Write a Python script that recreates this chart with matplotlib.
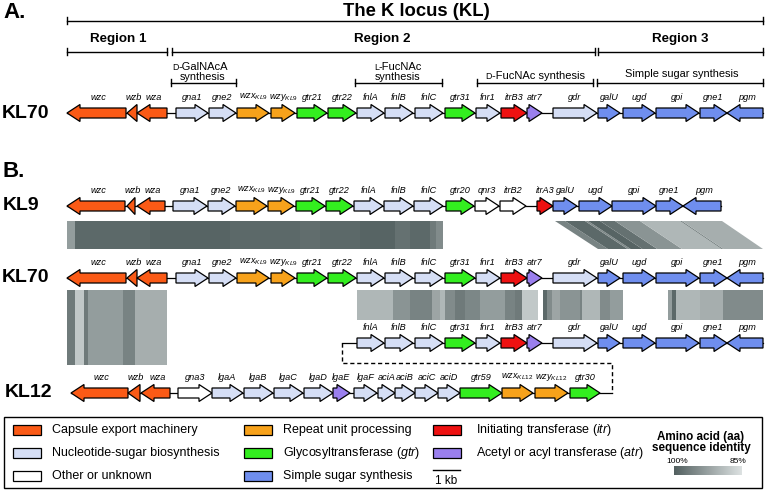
import matplotlib.pyplot as plt
import numpy as np
from matplotlib.patches import Polygon, Rectangle
from matplotlib.colors import LinearSegmentedColormap
from matplotlib.offsetbox import TextArea, HPacker, AnnotationBbox

plt.rcParams['font.family'] = ['Liberation Sans', 'DejaVu Sans']
plt.rcParams['mathtext.fontset'] = 'custom'
plt.rcParams['mathtext.rm'] = 'Liberation Sans'
plt.rcParams['mathtext.it'] = 'Liberation Sans:italic'
plt.rcParams['mathtext.bf'] = 'Liberation Sans:bold'

#%% data: genes as (name, start, end, strand, category), x in figure px (~27 px per kb)
kl70_genes = [
    ('wzc', 67, 126, -1, 'exp'), ('wzb', 127, 137, -1, 'exp'), ('wza', 137, 167, -1, 'exp'),
    ('gna1', 176, 208, 1, 'nuc'), ('gne2', 209, 236, 1, 'nuc'),
    ('wzx_KL9', 237, 269, 1, 'rep'), ('wzy_KL9', 271, 295, 1, 'rep'),
    ('gtr21', 297, 327, 1, 'gtr'), ('gtr22', 328, 356, 1, 'gtr'),
    ('fnlA', 357, 384, 1, 'nuc'), ('fnlB', 385, 413, 1, 'nuc'), ('fnlC', 415, 443, 1, 'nuc'),
    ('gtr31', 445, 475, 1, 'gtr'), ('fnr1', 476, 500, 1, 'nuc'),
    ('itrB3', 501, 527, 1, 'itr'), ('atr7', 527, 542, 1, 'atr'),
    ('gdr', 553, 597, 1, 'nuc'), ('galU', 598, 620, 1, 'sim'), ('ugd', 623, 655, 1, 'sim'),
    ('gpi', 656, 699, 1, 'sim'), ('gne1', 700, 727, 1, 'sim'), ('pgm', 727, 763, -1, 'sim'),
]
kl9_genes = [
    ('wzc', 67, 125, -1, 'exp'), ('wzb', 127, 135, -1, 'exp'), ('wza', 137, 165, -1, 'exp'),
    ('gna1', 173, 207, 1, 'nuc'), ('gne2', 208, 235, 1, 'nuc'),
    ('wzx_KL9', 236, 267, 1, 'rep'), ('wzy_KL9', 268, 294, 1, 'rep'),
    ('gtr21', 296, 325, 1, 'gtr'), ('gtr22', 326, 353, 1, 'gtr'),
    ('fnlA', 354, 383, 1, 'nuc'), ('fnlB', 384, 413, 1, 'nuc'), ('fnlC', 414, 443, 1, 'nuc'),
    ('gtr20', 446, 474, 1, 'gtr'), ('qnr3', 475, 499, 1, 'oth'), ('itrB2', 500, 526, 1, 'oth'),
    ('itrA3', 537, 553, 1, 'itr'), ('galU', 553, 577, 1, 'sim'), ('ugd', 579, 612, 1, 'sim'),
    ('gpi', 612, 656, 1, 'sim'), ('gne1', 656, 683, 1, 'sim'), ('pgm', 683, 721, -1, 'sim'),
]
kl12_genes = [
    ('wzc', 71, 128, -1, 'exp'), ('wzb', 128, 140, -1, 'exp'), ('wza', 141, 170, -1, 'exp'),
    ('gna3', 178, 212, 1, 'oth'), ('lgaA', 212, 243, 1, 'nuc'), ('lgaB', 244, 273, 1, 'nuc'),
    ('lgaC', 274, 303, 1, 'nuc'), ('lgaD', 304, 333, 1, 'nuc'), ('lgaE', 333, 350, 1, 'atr'),
    ('lgaF', 354, 377, 1, 'nuc'), ('aciA', 378, 395, 1, 'nuc'), ('aciB', 395, 415, 1, 'nuc'),
    ('aciC', 415, 438, 1, 'nuc'), ('aciD', 438, 460, 1, 'nuc'), ('gtr59', 460, 502, 1, 'gtr'),
    ('wzx_KL12', 502, 533, 1, 'rep'), ('wzy_KL12', 535, 568, 1, 'rep'), ('gtr30', 570, 600, 1, 'gtr'),
]
kl12_moved = [g for g in kl70_genes if g[1] >= 357]

# identity bands: (top x-range, bottom x-range, y-range, [(x0, x1, % identity)] along top)
bands = [
    ((67, 443), (67, 443), (221, 249),
     [(67, 75, 93), (75, 150, 99), (150, 230, 99.5), (230, 300, 99), (300, 320, 98.5),
      (320, 360, 99), (360, 395, 99.5), (395, 410, 98), (410, 430, 99), (430, 436, 97), (436, 443, 95)]),
    ((555, 722), (598, 763), (221, 249),
     [(555, 565, 96), (565, 585, 99), (585, 588, 95), (588, 600, 99.5), (600, 615, 98),
      (615, 640, 94), (640, 680, 90), (680, 682, 96), (682, 722, 91)]),
    ((67, 167), (67, 167), (290, 365),
     [(67, 75, 97), (75, 84, 88), (84, 88, 97), (88, 123, 93), (123, 135, 96), (135, 167, 91)]),
    ((357, 538), (357, 538), (290, 320),
     [(357, 393, 90), (393, 410, 94), (410, 432, 96), (432, 440, 92), (440, 445, 90),
      (445, 455, 95), (455, 465, 97), (465, 480, 95.5), (480, 505, 93), (505, 515, 96),
      (515, 522, 97), (522, 538, 88)]),
    ((543, 623), (543, 623), (290, 320),
     [(543, 547, 99), (547, 552, 95), (552, 560, 92), (560, 580, 94), (580, 582, 96),
      (582, 600, 90), (600, 610, 95), (610, 623, 93)]),
    ((668, 763), (668, 763), (290, 320),
     [(668, 672, 93), (672, 676, 99), (676, 700, 90), (700, 723, 91), (723, 763, 95)]),
]

cat_colors = {'exp': '#FA5A16', 'nuc': '#D5DEF5', 'oth': 'white', 'rep': '#F7A21B',
              'gtr': '#33EE1F', 'sim': '#6F8EEE', 'itr': '#EE1111', 'atr': '#9A7FEE'}
legend_items = [
    ('exp', 'Capsule export machinery'), ('nuc', 'Nucleotide-sugar biosynthesis'),
    ('oth', 'Other or unknown'), ('rep', 'Repeat unit processing'),
    ('gtr', r'Glycosyltransferase ($\mathit{gtr}$)'), ('sim', 'Simple sugar synthesis'),
    ('itr', r'Initiating transferase ($\mathit{itr}$)'), ('atr', r'Acetyl or acyl transferase ($\mathit{atr}$)'),
]

region_spans = [('Region 1', 67, 167, 118), ('Region 2', 172, 595, 382), ('Region 3', 598, 763, 680)]

id_cmap = LinearSegmentedColormap.from_list('ident', ['#DDE2E2', '#536060'])


def ident_color(p):
    return id_cmap((p - 85) / 15)


def gene_label(name):
    if '_' in name:
        base, sub = name.split('_')
        return base + r'$_{\mathit{' + sub + '}}$'
    return name


def gene_arrow(ax, start, end, strand, y, color, body=5, head=8.5, head_len=13):
    hl = min(head_len, end - start)
    if strand > 0:
        tip, base, tail = end, end - hl, start
    else:
        tip, base, tail = start, start + hl, end
    pts = [(tail, y - body), (base, y - body), (base, y - head), (tip, y),
           (base, y + head), (base, y + body), (tail, y + body)]
    ax.add_patch(Polygon(pts, closed=True, fc=color, ec='black', lw=0.9,
                         joinstyle='miter', zorder=3))


def draw_row(ax, genes, y, line_from=None, line_to=None):
    x0 = genes[0][1] if line_from is None else line_from
    x1 = genes[-1][2] if line_to is None else line_to
    ax.plot([x0, x1], [y, y], color='black', lw=0.9, zorder=2)
    for name, s, e, strand, cat in genes:
        gene_arrow(ax, s, e, strand, y, cat_colors[cat])
        ax.text((s + e) / 2 + (2 if strand < 0 else 0), y - 16, gene_label(name),
                ha='center', va='center', style='italic', fontsize=6.6)


def bracket(ax, x0, x1, y, tick=3.5):
    ax.plot([x0, x1], [y, y], color='black', lw=1)
    ax.plot([x0, x0], [y - tick, y + tick], color='black', lw=1)
    ax.plot([x1, x1], [y - tick, y + tick], color='black', lw=1)


def smallcap_text(ax, x, y, cap, rest, size=8):
    box = HPacker(children=[TextArea(cap, textprops=dict(size=size * 0.8)),
                            TextArea(rest, textprops=dict(size=size))],
                  align='baseline', pad=0, sep=0)
    ax.add_artist(AnnotationBbox(box, (x, y), frameon=False, box_alignment=(0.5, 0.5), pad=0))


#%% figure in pixel coordinates
fig = plt.figure(figsize=(7.66, 4.9), dpi=100)
ax = fig.add_axes([0, 0, 1, 1])
ax.axis('off')

# panel A headers
ax.text(3, 13, 'A.', fontsize=16, fontweight='bold', va='center', ha='left')
ax.text(416, 11, 'The K locus (KL)', fontsize=13.3, fontweight='bold', ha='center', va='center')
bracket(ax, 67, 763, 21)
for label, x0, x1, xc in region_spans:
    ax.text(xc, 39, label, fontsize=9.6, fontweight='bold', ha='center', va='center')
    bracket(ax, x0, x1, 52)

smallcap_text(ax, 200, 67, 'D', '-GalNAcA')
ax.text(203, 77, 'synthesis', fontsize=7.8, ha='center', va='center')
bracket(ax, 171, 236, 83)
smallcap_text(ax, 398, 67, 'L', '-FucNAc')
ax.text(398, 77, 'synthesis', fontsize=7.8, ha='center', va='center')
bracket(ax, 355, 442, 83)
smallcap_text(ax, 535, 76, 'D', '-FucNAc synthesis')
bracket(ax, 477, 593, 83)
ax.text(682, 74, 'Simple sugar synthesis', fontsize=7.9, ha='center', va='center')
bracket(ax, 597, 763, 83)

ax.text(2, 113, 'KL70', fontsize=14, fontweight='bold', va='center', ha='left')
draw_row(ax, kl70_genes, 113)

# panel B
ax.text(3, 171, 'B.', fontsize=16, fontweight='bold', va='center', ha='left')
ax.text(3, 205, 'KL9', fontsize=14, fontweight='bold', va='center', ha='left')
draw_row(ax, kl9_genes, 206)
ax.text(2, 277, 'KL70', fontsize=14, fontweight='bold', va='center', ha='left')
draw_row(ax, kl70_genes, 278)
ax.text(5, 392, 'KL12', fontsize=14, fontweight='bold', va='center', ha='left')
draw_row(ax, kl12_moved, 343, line_from=342)
draw_row(ax, kl12_genes, 393, line_to=612)
ax.plot([342, 342, 612, 612], [343, 363, 363, 393], color='black', lw=1,
        ls=(0, (3, 2)), zorder=2)

for (t0, t1), (b0, b1), (ya, yb), segs in bands:
    for x0, x1, p in segs:
        bx0 = b0 + (x0 - t0) * (b1 - b0) / (t1 - t0)
        bx1 = b0 + (x1 - t0) * (b1 - b0) / (t1 - t0)
        ax.add_patch(Polygon([(x0, ya), (x1, ya), (bx1, yb), (bx0, yb)], closed=True,
                             fc=ident_color(p), ec='none', zorder=0))

#%% legend
ax.add_patch(Rectangle((4, 417), 758, 71, fc='white', ec='black', lw=1, zorder=1))
col_x = [(13, 52), (244, 283), (433, 476)]
row_y = [430, 453, 476]
for i, (cat, text) in enumerate(legend_items):
    sx, tx = col_x[i // 3]
    y = row_y[i % 3]
    ax.add_patch(Rectangle((sx, y - 5), 28, 10, fc=cat_colors[cat], ec='black', lw=0.9, zorder=2))
    ax.text(tx, y, text, fontsize=9, va='center', ha='left')
ax.plot([433, 460], [470, 470], color='black', lw=1)
ax.text(446, 481, '1 kb', fontsize=8.5, ha='center', va='center')

ax.text(701, 437, 'Amino acid (aa)', fontsize=8.4, fontweight='bold', ha='center', va='center')
ax.text(701, 448, 'sequence identity', fontsize=8.4, fontweight='bold', ha='center', va='center')
ax.text(666, 461, '100%', fontsize=6, ha='left', va='center')
ax.text(746, 461, '85%', fontsize=6, ha='right', va='center')
ax.imshow(np.linspace(1, 0, 200)[None, :], cmap=id_cmap, vmin=0, vmax=1,
          extent=[674, 742, 475, 466], aspect='auto', zorder=2)

ax.set_xlim(0, 766)
ax.set_ylim(490, 0)
fig.savefig('out.png', dpi=100)
